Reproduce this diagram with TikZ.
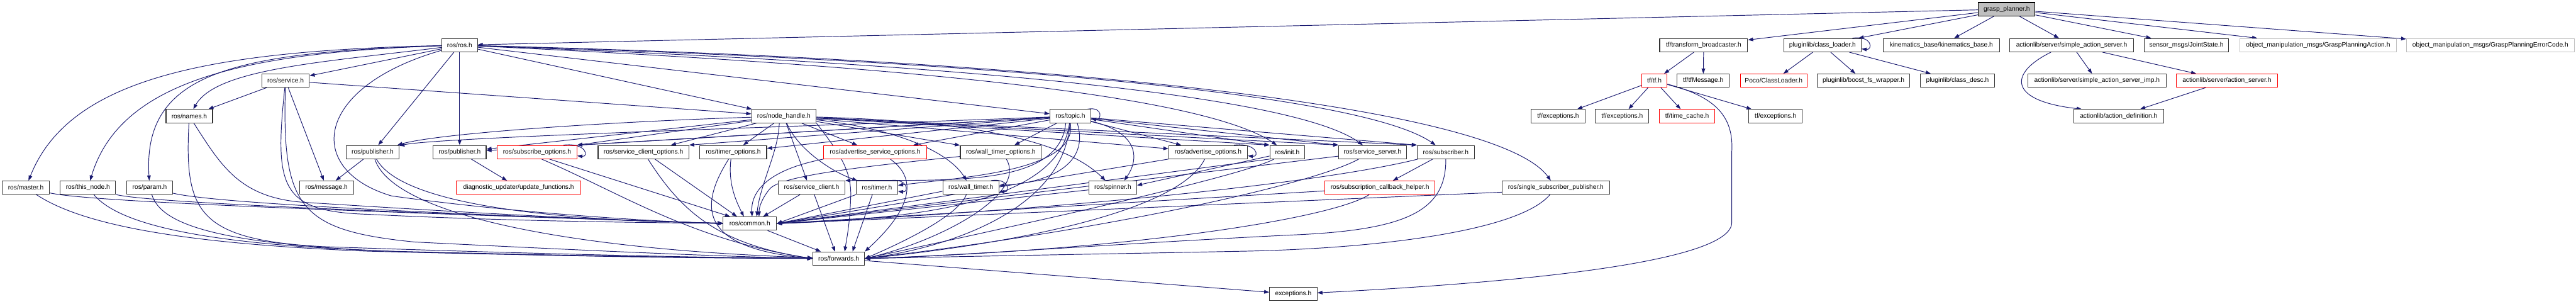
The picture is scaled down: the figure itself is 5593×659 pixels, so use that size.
\documentclass[tikz,border=0pt]{standalone}
\usepackage{fontspec}
\setmainfont{Liberation Sans}
\usetikzlibrary{arrows.meta}
\definecolor{edgec}{HTML}{191970}
\definecolor{grayc}{HTML}{BFBFBF}
\definecolor{boxc}{HTML}{333333}
\pgfdeclarelayer{bg}
\pgfsetlayers{bg,main}
\begin{document}
\begin{tikzpicture}[x=1pt,y=1pt,
 box/.style={draw=boxc, line width=1.5pt, fill=white, minimum height=29pt, inner sep=0pt, font=\fontsize{14}{16}\selectfont},
 rbox/.style={box, draw=red},
 lbox/.style={box, draw=grayc},
 root/.style={box, draw=black, fill=grayc},
 e/.style={draw=edgec, line width=1.3pt, -{Triangle[length=11pt,width=8pt]}}]
\useasboundingbox (0,0) rectangle (5593,659);
% row 0
\node[root,minimum width=123pt] (G) at (4357,639) {grasp\_planner.h};
% row 1
\node[box,minimum width=77pt] (ros) at (998,561) {ros/ros.h};
\node[box,minimum width=191pt] (tb) at (3699,561) {tf/transform\_broadcaster.h};
\node[box,minimum width=168pt] (cl) at (3957,561) {pluginlib/class\_loader.h};
\node[box,minimum width=252pt] (kb) at (4215,561) {kinematics\_base/kinematics\_base.h};
\node[box,minimum width=269pt] (sas) at (4498,561) {actionlib/server/simple\_action\_server.h};
\node[box,minimum width=184pt] (js) at (4747,561) {sensor\_msgs/JointState.h};
\node[lbox,minimum width=340pt] (gpa) at (5033,561) {object\_manipulation\_msgs/GraspPlanningAction.h};
\node[lbox,minimum width=364pt] (gpe) at (5407,561) {object\_manipulation\_msgs/GraspPlanningErrorCode.h};
% row 2
\node[box,minimum width=103pt] (service) at (620,484) {ros/service.h};
\node[rbox,minimum width=55pt] (tf) at (3592,484) {tf/tf.h};
\node[box,minimum width=113pt] (tfm) at (3698,484) {tf/tfMessage.h};
\node[rbox,minimum width=145pt] (poco) at (3851,484) {Poco/ClassLoader.h};
\node[box,minimum width=201pt] (bfs) at (4046,484) {pluginlib/boost\_fs\_wrapper.h};
\node[box,minimum width=160pt] (cd) at (4250,484) {pluginlib/class\_desc.h};
\node[box,minimum width=300pt] (sasi) at (4553,484) {actionlib/server/simple\_action\_server\_imp.h};
\node[rbox,minimum width=220pt] (as) at (4835,484) {actionlib/server/action\_server.h};
% row 3
\node[box,minimum width=101pt] (names) at (411,407) {ros/names.h};
\node[box,minimum width=140pt] (nh) at (1702,407) {ros/node\_handle.h};
\node[box,minimum width=89pt] (topic) at (2324,407) {ros/topic.h};
\node[box,minimum width=117pt] (tfe1) at (3383,407) {tf/exceptions.h};
\node[box,minimum width=116pt] (tfe2) at (3522,407) {tf/exceptions.h};
\node[rbox,minimum width=120pt] (tc) at (3663,407) {tf/time\_cache.h};
\node[box,minimum width=116pt] (tfe3) at (3855,407) {tf/exceptions.h};
\node[box,minimum width=196pt] (ad) at (4600,407) {actionlib/action\_definition.h};
% row 4
\node[box,minimum width=115pt] (pubA) at (809,329) {ros/publisher.h};
\node[box,minimum width=115pt] (pubB) at (998,329) {ros/publisher.h};
\node[rbox,minimum width=173pt] (so) at (1166,329) {ros/subscribe\_options.h};
\node[box,minimum width=197pt] (sco) at (1397,329) {ros/service\_client\_options.h};
\node[box,minimum width=145pt] (to) at (1592,329) {ros/timer\_options.h};
\node[rbox,minimum width=223pt] (aso) at (1900,329) {ros/advertise\_service\_options.h};
\node[box,minimum width=176pt] (wto) at (2173,329) {ros/wall\_timer\_options.h};
\node[box,minimum width=171pt] (ao) at (2623,329) {ros/advertise\_options.h};
\node[box,minimum width=76pt] (init) at (2795,329) {ros/init.h};
\node[box,minimum width=147pt] (ss) at (2980,329) {ros/service\_server.h};
\node[box,minimum width=124pt] (sub) at (3139,329) {ros/subscriber.h};
% row 5
\node[box,minimum width=103pt] (master) at (56,252) {ros/master.h};
\node[box,minimum width=120pt] (thisnode) at (191,252) {ros/this\_node.h};
\node[box,minimum width=100pt] (param) at (325,252) {ros/param.h};
\node[box,minimum width=117pt] (msg) at (709,252) {ros/message.h};
\node[rbox,minimum width=270pt] (uf) at (1126,252) {diagnostic\_updater/update\_functions.h};
\node[box,minimum width=145pt] (sc) at (1762,252) {ros/service\_client.h};
\node[box,minimum width=90pt] (timer) at (1904,252) {ros/timer.h};
\node[box,minimum width=122pt] (wt) at (2108,252) {ros/wall\_timer.h};
\node[box,minimum width=104pt] (spin) at (2416,252) {ros/spinner.h};
\node[rbox,minimum width=239pt] (sch) at (2996,252) {ros/subscription\_callback\_helper.h};
\node[box,minimum width=233pt] (ssp) at (3378,252) {ros/single\_subscriber\_publisher.h};
% rows 6-8
\node[box,minimum width=116pt] (common) at (1628,174) {ros/common.h};
\node[box,minimum width=112pt] (forwards) at (1821,98) {ros/forwards.h};
\node[box,minimum width=103pt] (exceptions) at (2808,21) {exceptions.h};

\begin{pgfonlayer}{bg}
% grasp_planner
\draw[e] (G) -- (ros);
\draw[e] (G) -- (tb);
\draw[e] (G) -- (cl);
\draw[e] (G) -- (kb);
\draw[e] (G) -- (sas);
\draw[e] (G) -- (js);
\draw[e] (G) -- (gpa);
\draw[e] (G) -- (gpe);
% tf
\draw[e] (tb) -- (tf);
\draw[e] (tb) -- (tfm);
\draw[e] (tf) -- (tfe1);
\draw[e] (tf) -- (tfe2);
\draw[e] (tf) -- (tc);
\draw[e] (tf) -- (tfe3);
\draw[e] (tf) .. controls (3720,450) and (3765,410) .. (3760,329) -- (3760,176) .. controls (3760,119) and (3550,59) .. (exceptions);
% pluginlib
\draw[e] ([xshift=-20pt]cl.north east) .. controls +(45,6) and +(24,-3) .. ([yshift=-8pt]cl.east);
\draw[e] (cl) -- (poco);
\draw[e] (cl) -- (bfs);
\draw[e] (cl) -- (cd);
% actionlib
\draw[e] (sas) -- (sasi);
\draw[e] (sas) -- (as);
\draw[e] ([xshift=-45pt]sas.south) .. controls (4360,500) and (4360,440) .. ([xshift=-80pt]ad.north);
\draw[e] (as) -- (ad);
% ros.h
\draw[e] (ros) -- (service);
\draw[e] (ros) .. controls (700,524) and (470,510) .. (names);
\draw[e] (ros) .. controls (450,549) and (150,489) .. (master);
\draw[e] (ros) .. controls (520,545) and (260,480) .. (thisnode);
\draw[e] (ros) .. controls (500,545) and (310,500) .. (param);
\draw[e] (ros) -- (pubA);
\draw[e] (ros) -- (pubB);
\draw[e] (ros) -- (nh);
\draw[e] (ros) -- (topic);
\draw[e] (ros) .. controls (1900,519) and (2600,459) .. (init);
\draw[e] (ros) .. controls (2000,524) and (2800,459) .. (ss);
\draw[e] (ros) .. controls (2100,529) and (2950,459) .. (sub);
\draw[e] (ros) .. controls (2300,529) and (3250,429) .. (ssp);
\draw[e] (ros) .. controls (680,470) and (660,290) .. (850,234) .. controls (1100,199) and (1400,179) .. (common.west);
% service.h
\draw[e] (service) -- (names);
\draw[e] (service) -- (nh);
\draw[e] (service) -- (msg);
\draw[e] (service) .. controls (595,250) and (610,200) .. (800,194) .. controls (1100,179) and (1400,176) .. (common);
\draw[e] (service) .. controls (612,209) and (650,159) .. (900,134) .. controls (1300,114) and (1600,101) .. (forwards);
% names, master, this_node, param
\draw[e] (names) .. controls (480,300) and (520,230) .. (660,220) .. controls (900,205) and (1300,180) .. (common);
\draw[e] (names) .. controls (400,199) and (430,139) .. (700,124) .. controls (1100,110) and (1500,100) .. (forwards);
\draw[e] (master) .. controls (200,220) and (800,200) .. (common.west);
\draw[e] (thisnode) .. controls (320,220) and (800,200) .. (common.west);
\draw[e] (param) .. controls (450,222) and (800,200) .. (common.west);
\draw[e] (master) .. controls (180,170) and (400,130) .. (800,114) .. controls (1200,104) and (1500,100) .. (forwards);
\draw[e] (thisnode) .. controls (260,170) and (450,128) .. (850,114) .. controls (1250,104) and (1500,100) .. (forwards);
\draw[e] (param) .. controls (350,170) and (480,126) .. (900,112) .. controls (1300,102) and (1500,99) .. (forwards);
% publishers
\draw[e] (pubA) -- (msg);
\draw[e] (pubA) .. controls (880,200) and (1300,179) .. (common);
\draw[e] (pubA) .. controls (850,200) and (1200,119) .. (forwards);
\draw[e] (pubB) -- (uf);
% node_handle and topic to row 4
\draw[e] (nh) .. controls (1300,394) and (950,369) .. (pubA);
\draw[e] (topic) .. controls (1900,390) and (950,362) .. (pubA);
\draw[e] (nh) -- (pubB);
\draw[e] (topic) -- (pubB);
\draw[e] (nh) -- (so.north east);
\draw[e] (topic) -- (so.north east);
\draw[e] (nh) -- (sco);
\draw[e] (topic) -- (sco.north east);
\draw[e] (nh) -- (to);
\draw[e] (topic) -- ([yshift=8pt]to.east);
\draw[e] (nh) -- (aso);
\draw[e] (topic) -- (aso);
\draw[e] (nh) -- (wto);
\draw[e] (topic) -- (wto);
\draw[e] (nh) -- (ao);
\draw[e] (topic) -- (ao);
\draw[e] (nh) -- (init.north west);
\draw[e] (topic) -- (init.north west);
\draw[e] (nh) -- (ss.north west);
\draw[e] (topic) -- (ss.north west);
\draw[e] (nh) -- (sub.north west);
\draw[e] (topic) -- (sub.north west);
% node_handle and topic to row 5
\draw[e] ([xshift=5pt]nh.south) -- ([xshift=-10pt]sc.north);
\draw[e] (nh) .. controls (1730,339) and (1800,289) .. (timer);
\draw[e] (nh) .. controls (1950,379) and (2060,329) .. (wt);
\draw[e] (nh) .. controls (2150,395) and (2320,345) .. (spin);
\draw[e] ([xshift=-10pt]topic.south) .. controls (2300,250) and (2050,270) .. (sc.north east);
\draw[e] (topic.south) .. controls (2340,290) and (2100,275) .. ([yshift=5pt]timer.east);
\draw[e] ([xshift=15pt]topic.south) .. controls (2370,290) and (2250,260) .. ([yshift=5pt]wt.east);
\draw[e] (topic) .. controls (2480,369) and (2470,309) .. ([xshift=25pt]spin.north);
\draw[e] (init) -- ([yshift=5pt]spin.east);
% self loops
\draw[e] ([xshift=-30pt]so.north east) .. controls +(50,6) and +(26,-3) .. ([yshift=-8pt]so.east);
\draw[e] ([xshift=-30pt]ao.north east) .. controls +(50,6) and +(26,-3) .. ([yshift=-8pt]ao.east);
\draw[e] ([xshift=-18pt]timer.north east) .. controls +(40,6) and +(24,-3) .. ([yshift=-8pt]timer.east);
\draw[e] ([xshift=-18pt]wt.north east) .. controls +(40,6) and +(24,-3) .. ([yshift=-8pt]wt.east);
\draw[e] ([xshift=-8pt]topic.north east) .. controls +(35,6) and +(22,-3) .. ([yshift=-6pt]topic.east);
% to common / forwards
\draw[e] ([xshift=27pt]so.south) -- ([xshift=-43pt]common.north);
\draw[e] ([xshift=10pt]so.south) .. controls (1350,239) and (1500,139) .. (forwards.west);
\draw[e] ([xshift=25pt]sco.south) -- ([xshift=-28pt]common.north);
\draw[e] ([xshift=10pt]sco.south) .. controls (1480,199) and (1560,129) .. (forwards.west);
\draw[e] ([xshift=-5pt]to.south) .. controls (1580,259) and (1600,219) .. ([xshift=-13pt]common.north);
\draw[e] ([xshift=-10pt]to.south) .. controls (1510,200) and (1530,120) .. (forwards.west);
\draw[e] (aso.south west) .. controls (1660,289) and (1630,239) .. ([xshift=5pt]common.north);
\draw[e] ([xshift=33pt]aso.south) .. controls (2010,259) and (1950,179) .. (forwards.north east);
\draw[e] ([xshift=-10pt]nh.south) .. controls (1690,329) and (1650,259) .. ([xshift=15pt]common.north);
\draw[e] (nh.south east) .. controls (1820,330) and (1850,290) .. (1847,230) .. controls (1845,170) and (1838,140) .. ([xshift=13pt]forwards.north);
\draw[e] (wto) .. controls (1900,300) and (1700,280) .. (1672,250) .. controls (1655,230) and (1648,210) .. ([xshift=20pt]common.north);
\draw[e] ([xshift=12pt]wto.south) .. controls (2230,239) and (2050,139) .. (forwards.east);
\draw[e] (ao.south west) -- (common.east);
\draw[e] (ao) .. controls (2560,200) and (2200,130) .. (forwards.east);
\draw[e] (init.south west) -- (common.east);
\draw[e] (init) .. controls (2700,279) and (2300,189) .. (forwards.east);
\draw[e] (ss) -- (common.east);
\draw[e] ([xshift=-30pt]ss.south) .. controls (2850,259) and (2400,159) .. (forwards.east);
\draw[e] (sub) .. controls (2900,269) and (2400,209) .. (common.east);
\draw[e] (sub) .. controls (3140,199) and (3050,159) .. (2800,149) .. controls (2400,129) and (2100,105) .. (forwards.east);
\draw[e] (sub) -- (sch);
\draw[e] (sch) -- (common.east);
\draw[e] (sch) .. controls (2900,189) and (2500,119) .. (forwards.east);
\draw[e] ([yshift=-10pt]ssp.west) -- (common.east);
\draw[e] (ssp) .. controls (3300,159) and (3000,120) .. (2700,114) .. controls (2400,108) and (2100,103) .. (forwards.east);
\draw[e] ([xshift=-25pt]sc.south) -- ([xshift=29pt]common.north);
\draw[e] ([xshift=6pt]sc.south) -- ([xshift=-8pt]forwards.north);
\draw[e] (timer.south west) -- (common.east);
\draw[e] ([xshift=-10pt]timer.south) -- ([xshift=30pt]forwards.north);
\draw[e] ([yshift=-8pt]wt.west) -- (common.east);
\draw[e] ([xshift=-10pt]wt.south) .. controls (2080,189) and (1950,129) .. (forwards.east);
\draw[e] ([yshift=-5pt]spin.west) -- (common.east);
\draw[e] (topic) .. controls (2300,220) and (2000,185) .. (common.east);
\draw[e] (topic) .. controls (2310,200) and (2050,120) .. (forwards.east);
\draw[e] (common) -- (forwards);
\draw[e] (forwards) -- (exceptions);
\end{pgfonlayer}
\end{tikzpicture}
\end{document}
